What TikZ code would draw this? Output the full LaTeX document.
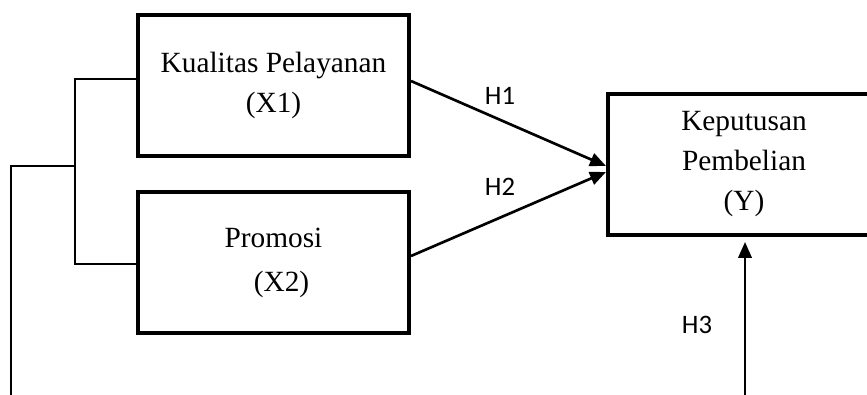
\documentclass[tikz,border=0pt]{standalone}
\usepackage{fontspec}
\setmainfont{Liberation Serif}
\newfontfamily\calib{Carlito}
\usetikzlibrary{arrows.meta}
\begin{document}
\begin{tikzpicture}[x=0.75pt,y=-0.75pt,
  varbox/.style={draw,line width=2.4pt,rectangle,inner sep=0pt,align=center,
    font=\fontsize{22}{29}\selectfont},
  conn/.style={line width=1.7pt},
  arr/.style={line width=2pt,-{Triangle[length=12pt,width=10pt]}},
  hlab/.style={font=\calib\fontsize{20}{22}\selectfont,inner sep=0pt}]
\useasboundingbox (0,0) rectangle (867,395);
\clip (0,0) rectangle (867,395);
\node[varbox,minimum width=203.25pt,minimum height=105.75pt] (x1) at (273.5,85.5)
  {\raisebox{-5pt}{\parbox{200pt}{\centering Kualitas Pelayanan\\[1pt](X1)}}};
\node[varbox,minimum width=203.25pt,minimum height=105.75pt] (x2) at (273.5,262.5)
  {\raisebox{-4pt}{\parbox{200pt}{\centering Promosi\\[4pt]\hspace*{12pt}(X2)}}};
\node[varbox,minimum width=204pt,minimum height=105.75pt] (y) at (744,164.5)
  {\raisebox{1pt}{\parbox{200pt}{\centering Keputusan\\[1pt]Pembelian\\[1pt](Y)}}};
\coordinate (bt) at (75,79);
\coordinate (bb) at (75,264);
\coordinate (bm) at (75,166);
\coordinate (lc) at (11,166);
\coordinate (lb) at (11,400);
\draw[conn] (x1.west |- bt) -- (bt) -- (bb) -- (x2.west |- bb);
\draw[conn] (bm) -- (lc) -- (lb);
\coordinate (h1s) at (411,81);
\coordinate (h1e) at (606,166);
\coordinate (h2s) at (411,256);
\coordinate (h2e) at (606,172);
\coordinate (h3s) at (745,400);
\draw[arr] (h1s) -- (h1e);
\draw[arr] (h2s) -- (h2e);
\draw[arr,shorten >=4pt] (h3s) -- (y.south -| h3s);
\node[hlab] (l1) at (500,96) {H1};
\node[hlab] (l2) at (500,187) {H2};
\node[hlab] (l3) at (697,325) {H3};
\end{tikzpicture}
\end{document}
